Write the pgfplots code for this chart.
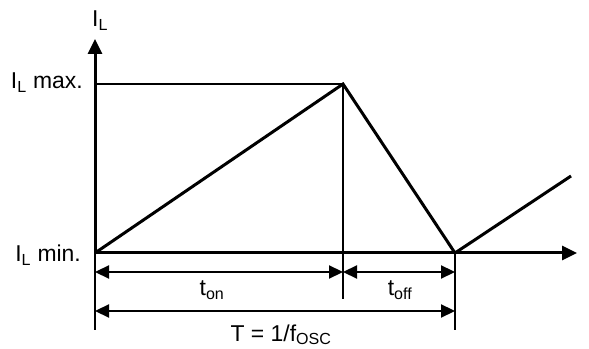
\documentclass[border=0pt]{standalone}
\usepackage{fontspec}
\setmainfont{Liberation Sans}
\usepackage{pgfplots}
\pgfplotsset{compat=1.18}
\usetikzlibrary{arrows.meta}

\tikzset{
  bigtip/.style={-{Triangle[length=15bp,width=14bp]}},
  dimtip/.style={{Triangle[length=14bp,width=13bp]}-{Triangle[length=14bp,width=13bp]}},
  lbl/.style={font=\fontsize{23}{25}\selectfont, inner sep=0pt},
}

\begin{document}
\begin{tikzpicture}
\begin{axis}[
  width=589bp, height=349bp, scale only axis,
  xmin=-95, xmax=494, ymin=-96, ymax=253,
  hide axis, clip=false,
]
% keep the page the size of the reference
\path (rel axis cs:0,0) rectangle (rel axis cs:1,1);

% axes
\addplot[line width=3bp, bigtip] coordinates {(0,0) (482,0)};
\addplot[line width=3bp, bigtip] coordinates {(0,0) (0,214)};

% guide lines
\addplot[line width=1.8bp] coordinates {(0,169) (248,169)};
\addplot[line width=1.8bp] coordinates {(0,0) (0,-77)};
\addplot[line width=1.8bp] coordinates {(248,169) (248,-46)};
\addplot[line width=1.8bp] coordinates {(360,0) (360,-77)};

% inductor current
\addplot[line width=3bp, line join=miter] coordinates {(0,0) (248,169) (360,0) (476,77)};

% time spans
\addplot[line width=2.2bp, dimtip] coordinates {(0,-19) (248,-19)};
\addplot[line width=2.2bp, dimtip] coordinates {(248,-19) (360,-19)};
\addplot[line width=2.2bp, dimtip] coordinates {(0,-58) (360,-58)};

\node[lbl, anchor=base west] at (axis cs:-3,226) {I\textsubscript{L}};
\node[lbl, anchor=base east] at (axis cs:-12,164) {I\textsubscript{L} max.};
\node[lbl, anchor=base east] at (axis cs:-14,-9) {I\textsubscript{L} min.};
\node[lbl] at (axis cs:117,-37) {t\textsubscript{on}};
\node[lbl] at (axis cs:305,-37) {t\textsubscript{off}};
\node[lbl, anchor=base] at (axis cs:186,-88) {T = 1/f\textsubscript{OSC}};
\end{axis}
\end{tikzpicture}
\end{document}
